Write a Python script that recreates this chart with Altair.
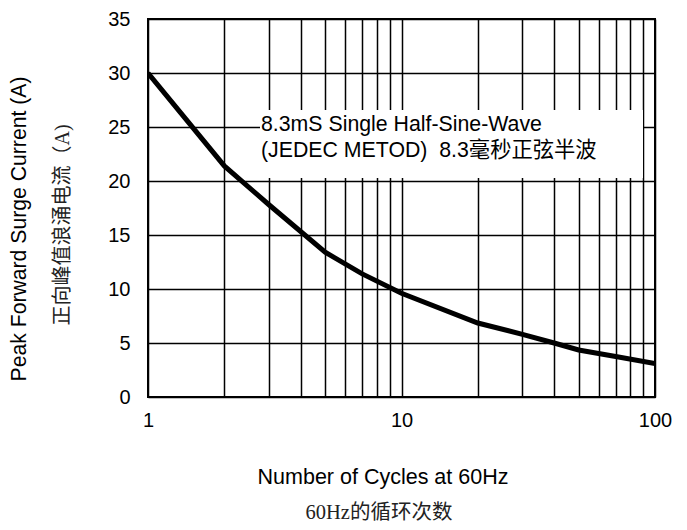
import altair as alt
import pandas as pd

# ---- data ----
cycles = [1, 2, 3, 5, 7, 10, 20, 30, 40, 50, 70, 100]
current = [30.0, 21.4, 17.8, 13.4, 11.4, 9.6, 6.85, 5.8, 5.0, 4.35, 3.75, 3.1]

x_grid = [1, 2, 3, 4, 5, 6, 7, 8, 9, 10, 20, 30, 40, 50, 60, 70, 80, 90, 100]
x_labels = [1, 10, 100]
y_ticks = [0, 5, 10, 15, 20, 25, 30, 35]

x_title_en = "Number of Cycles at 60Hz"
x_title_cn = "60Hz的循环次数"
y_title_en = "Peak Forward Surge Current (A)"
y_title_cn = "正向峰值浪涌电流（A)"
note_line1 = "8.3mS Single Half-Sine-Wave"
note_line2 = "(JEDEC METOD)\u00a0 8.3毫秒正弦半波"

W, H = 507, 378
SANS = "Liberation Sans, Arial, Noto Sans CJK SC"
SERIF = "Liberation Serif, Noto Sans CJK SC"

df = pd.DataFrame({"cycles": cycles, "current": current})

label_expr = "indexof([" + ",".join(str(v) for v in x_labels) + "], datum.value) >= 0 ? format(datum.value, 'd') : ''"

x_enc = alt.X(
    "cycles:Q",
    title=None,
    scale=alt.Scale(type="log", domain=[1, 100]),
    axis=alt.Axis(values=x_grid, labelExpr=label_expr, ticks=False, domain=False,
                  grid=True, labelPadding=13, labelFlush=False),
)
y_enc = alt.Y(
    "current:Q",
    title=None,
    scale=alt.Scale(domain=[0, 35], nice=False),
    axis=alt.Axis(values=y_ticks, ticks=False, domain=False, grid=True, labelPadding=18),
)

line = alt.Chart(df).mark_line(color="black", strokeWidth=5, clip=True).encode(x=x_enc, y=y_enc)

box = alt.Chart(pd.DataFrame({"k": [0]})).mark_rect(color="white", opacity=1).encode(
    x=alt.value(112), x2=alt.value(495), y=alt.value(91), y2=alt.value(159)
)


def txt(s, x, y, font, size, angle=0, align="center", color="black"):
    return alt.Chart(pd.DataFrame({"t": [s]})).mark_text(
        font=font, fontSize=size, angle=angle, align=align, baseline="middle", color=color
    ).encode(text="t:N", x=alt.value(x), y=alt.value(y))


layers = [
    box,
    line,
    txt(note_line1, 113, 106, SANS, 21.3, align="left"),
    txt(note_line2, 113, 132, SANS, 21.3, align="left"),
    txt(x_title_en, 235, 459, SANS, 21.5),
    txt(x_title_cn, 231, 494, SERIF, 20.5, color="#222222"),
    txt(y_title_en, -128, 210, SANS, 21.2, angle=270),
    txt(y_title_cn, -85, 206, SERIF, 20, angle=270, color="#222222"),
]

chart = alt.layer(*layers).properties(
    width=W, height=H,
    autosize=alt.AutoSizeParams(type="none"),
    padding={"left": 140, "top": 11, "right": 24, "bottom": 125},
).configure_view(
    stroke="black", strokeWidth=2
).configure_axis(
    labelFont=SANS, labelFontSize=20, labelColor="black",
    gridColor="black", gridWidth=1.5, gridOpacity=1,
)

chart.save("out.html", embed_options={"renderer": "svg", "actions": False})
